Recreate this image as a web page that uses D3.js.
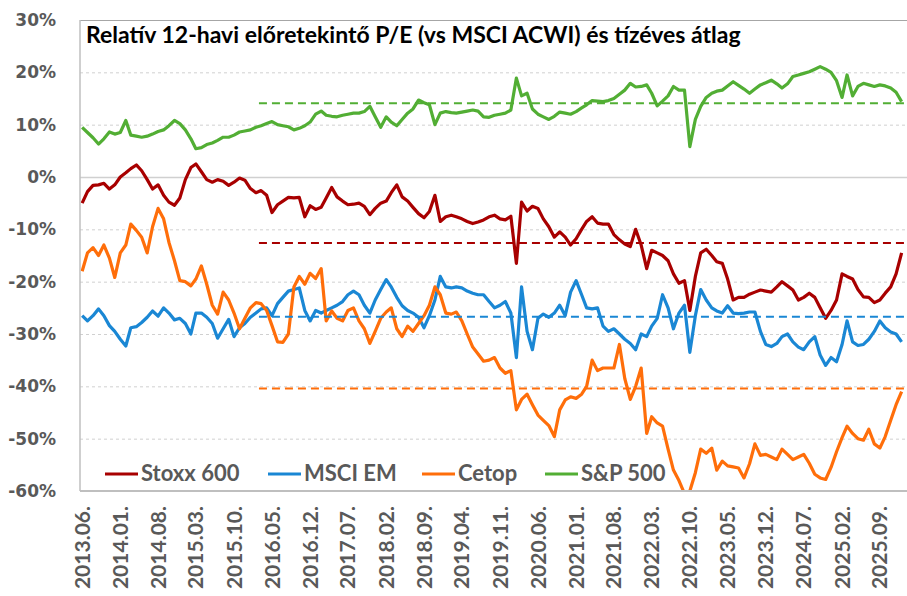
<!DOCTYPE html>
<html>
<head>
<meta charset="utf-8">
<script src="https://cdn.jsdelivr.net/npm/d3@7"></script>
<style>
  body { margin: 0; background: #fff; }
</style>
</head>
<body>
<svg id="chart" width="907" height="596"></svg>
<script>
// relative forward P/E vs MSCI ACWI, monthly readings (%), 2013.06 - 2026.01
const firstMonth = "2013.06.";
const lastMonth = "2026.01.";

const stoxx600 = [
  -5.0, -2.8, -1.6, -1.5, -1.2, -2.3, -1.5, 0, 0.8, 1.6,
  2.3, 1.2, -0.5, -2.3, -1.5, -3.5, -4.8, -5.4, -4.0, -0.5,
  1.8, 2.5, 1.0, -0.5, -1.0, -0.5, -0.8, -1.6, -1.0, -0.2,
  -0.6, -2.2, -3.0, -2.6, -3.5, -6.8, -5.3, -4.6, -3.9, -4.0,
  -3.9, -7.6, -5.5, -6.2, -5.8, -4.0, -2.0, -3.8, -4.6, -5.3,
  -5.2, -5.0, -5.6, -7.2, -6.0, -5.0, -4.6, -3.0, -1.5, -3.8,
  -4.6, -5.8, -7.0, -7.8, -6.6, -3.5, -8.5, -7.6, -7.3, -7.6,
  -8.0, -8.5, -8.9, -8.6, -8.2, -7.6, -7.3, -8.0, -8.2, -7.5,
  -16.5, -4.8, -6.5, -5.6, -6.0, -8.0, -9.5, -11.5, -10.5, -11.5,
  -13.0, -11.8, -10.0, -8.5, -7.6, -8.8, -9.0, -9.0, -11.0, -12.0,
  -12.8, -13.3, -10.0, -13.0, -17.5, -14.0, -14.5, -15.0, -16.0, -18.5,
  -20.3, -19.8, -25.5, -19.0, -14.5, -13.8, -15.0, -16.2, -16.5, -19.5,
  -23.5, -23.0, -23.0, -22.4, -22.0, -21.6, -21.8, -22.0, -21.0, -20.0,
  -20.8, -21.6, -23.5, -23.0, -22.2, -23.0, -25.0, -27.0, -25.5, -23.5,
  -18.5, -19.0, -19.5, -21.5, -22.9, -23.0, -24.0, -23.5, -22.2, -21.0, -18.5, -14.5
];

const msciEM = [
  -26.5, -27.5, -26.5, -25.2, -26.5, -28.4, -29.5, -31.0, -32.3, -28.8,
  -28.6, -27.8, -26.8, -25.6, -26.6, -25.0, -26.0, -27.3, -27.0, -28.0,
  -30.0, -26.0, -26.0, -26.8, -28.0, -30.8, -29.0, -27.2, -30.5, -28.8,
  -28.0, -26.8, -26.0, -25.2, -25.0, -26.5, -24.2, -23.0, -21.8, -21.5,
  -21.2, -25.5, -27.5, -25.5, -26.0, -25.5, -25.0, -24.5, -23.8, -22.5,
  -21.8, -22.5, -24.5, -26.0, -23.5, -21.5, -19.6, -21.0, -23.0, -24.6,
  -25.5, -26.0, -26.8, -28.8, -26.5, -23.5, -19.0, -21.0, -21.2, -21.0,
  -21.2, -21.8, -22.2, -22.5, -22.5, -23.8, -25.0, -24.5, -23.8, -26.0,
  -34.5, -21.0, -29.5, -33.0, -27.0, -26.2, -26.8, -26.0, -24.5, -26.5,
  -22.0, -19.8, -22.5, -25.0, -25.2, -25.0, -28.5, -29.5, -29.0, -30.0,
  -31.0, -31.8, -33.0, -30.0, -30.5, -28.5, -27.0, -22.5, -25.0, -29.0,
  -26.0, -24.5, -33.5, -26.5, -21.5, -23.5, -25.0, -25.6, -26.0, -24.6,
  -26.0, -26.1, -26.0, -25.8, -25.8, -29.5, -32.0, -32.4, -31.8, -30.5,
  -30.0, -31.5, -32.5, -33.0, -31.5, -30.5, -34.0, -36.0, -34.5, -35.3,
  -32.0, -27.5, -31.5, -32.2, -32.0, -31.0, -29.5, -27.5, -28.8, -29.6, -30.0, -31.5
];

const cetop = [
  -18.0, -14.5, -13.5, -15.0, -13.0, -15.5, -19.2, -14.5, -13.0, -9.0,
  -10.2, -11.5, -14.5, -9.5, -6.0, -8.0, -12.5, -16.0, -19.8, -20.0,
  -20.8, -19.5, -17.0, -20.5, -24.5, -26.2, -22.0, -23.5, -26.0, -29.0,
  -27.0, -25.0, -24.0, -24.2, -25.5, -28.4, -31.5, -31.6, -30.0, -21.0,
  -19.0, -20.5, -18.4, -19.4, -17.5, -27.5, -25.6, -27.0, -27.5, -25.5,
  -25.0, -27.5, -29.0, -31.8, -29.5, -27.0, -25.8, -25.0, -29.0, -30.5,
  -28.5, -29.5, -28.0, -26.5, -24.5, -21.0, -22.5, -26.0, -26.2, -25.8,
  -27.5, -30.0, -32.5, -33.8, -35.2, -35.0, -34.5, -36.5, -37.5, -37.0,
  -44.5, -42.5, -41.5, -43.5, -45.5, -46.5, -47.5, -49.6, -44.5, -42.6,
  -42.0, -42.3, -41.5, -40.0, -35.0, -37.0, -36.5, -36.5, -36.5, -32.0,
  -38.5, -42.5, -40.0, -36.5, -49.0, -45.8, -47.0, -47.6, -52.0, -56.0,
  -58.0, -60.5, -60.0, -56.5, -52.0, -52.8, -51.8, -56.0, -54.3, -55.2,
  -55.4, -55.6, -57.5, -54.8, -51.0, -53.2, -53.0, -53.5, -54.0, -52.0,
  -53.0, -54.0, -53.5, -53.0, -54.7, -56.8, -57.5, -57.8, -55.5, -52.5,
  -49.8, -47.6, -49.0, -50.0, -50.3, -48.2, -51.0, -51.8, -49.6, -46.5, -43.5, -41.0
];

const sp500 = [
  9.5, 8.5, 7.5, 6.3, 7.3, 8.6, 8.2, 8.5, 10.8, 8.0,
  7.8, 7.6, 7.8, 8.2, 8.7, 9.0, 9.8, 10.8, 10.2, 9.0,
  7.3, 5.4, 5.6, 6.2, 6.5, 7.0, 7.6, 7.6, 8.0, 8.6,
  8.8, 9.0, 9.5, 9.8, 10.2, 10.6, 10.0, 9.8, 9.6, 9.0,
  9.3, 9.8, 10.5, 12.0, 12.6, 11.8, 11.6, 11.5, 11.8, 12.0,
  12.2, 12.2, 12.5, 13.5, 11.5, 9.5, 11.5, 10.5, 9.8, 11.0,
  12.2, 13.0, 14.7, 14.2, 13.8, 10.0, 12.2, 12.5, 12.3, 12.2,
  12.4, 12.6, 12.8, 12.6, 11.5, 11.4, 11.8, 12.0, 12.2, 12.8,
  18.9, 15.5, 16.0, 13.0, 12.0, 11.5, 11.0, 11.6, 12.4, 12.2,
  12.0, 12.5, 13.2, 13.8, 14.6, 14.5, 14.4, 14.6, 15.0, 15.8,
  16.6, 17.9, 17.2, 17.3, 17.6, 16.0, 13.6, 14.5, 15.5, 17.3,
  16.6, 16.6, 5.8, 11.0, 13.5, 15.2, 16.0, 16.4, 16.6, 17.4,
  18.2, 17.5, 16.8, 16.0, 16.8, 17.6, 18.0, 18.5, 17.8, 17.0,
  17.8, 19.2, 19.5, 19.8, 20.1, 20.6, 21.1, 20.6, 20.0, 18.4,
  15.2, 19.5, 15.5, 17.3, 17.9, 17.6, 17.3, 17.6, 17.4, 17.0, 16.2, 14.4
];

// ten year averages (dashed lines)
const avgStart = "2016.02.";
const avgValues = [-12.6, -26.7, -40.4, 14.1];

const seriesNames = ["Stoxx 600", "MSCI EM", "Cetop", "S&P 500"];
const seriesColors = ["#A80000", "#1A87D4", "#FF6E0A", "#52AE34"];

const xTickLabels = ["2013.06.", "2014.01.", "2014.08.", "2015.03.", "2015.10.", "2016.05.",
  "2016.12.", "2017.07.", "2018.02.", "2018.09.", "2019.04.", "2019.11.", "2020.06.",
  "2021.01.", "2021.08.", "2022.03.", "2022.10.", "2023.05.", "2023.12.", "2024.07.",
  "2025.02.", "2025.09."];
const yTicks = [-60, -50, -40, -30, -20, -10, 0, 10, 20, 30];

const title = "Relatív 12-havi előretekintő P/E (vs MSCI ACWI) és tízéves átlag";

//parse the month strings
const parseMonth = d3.timeParse("%Y.%m.");
const months = d3.timeMonth.range(parseMonth(firstMonth), d3.timeMonth.offset(parseMonth(lastMonth), 1));
const allSeries = [stoxx600, msciEM, cetop, sp500];

const svg = d3.select("#chart");
const plotLeft = 80, plotRight = 905, plotTop = 20, plotBottom = 491;

// x - time scale, y - percent
const xScale = d3.scaleTime()
  .domain([new Date(2013, 4, 20), new Date(2026, 0, 20)])
  .range([plotLeft, plotRight]);
const yScale = d3.scaleLinear()
  .domain([-60, 30])
  .range([plotBottom, plotTop]);

// grid lines
svg.append("g")
  .selectAll("line")
  .data(yTicks.filter(d => d > -60))
  .enter()
  .append("line")
    .attr("x1", plotLeft)
    .attr("x2", 907)
    .attr("y1", d => yScale(d) + 0.5)
    .attr("y2", d => yScale(d) + 0.5)
    .attr("stroke", d => d === 30 ? "#A6A6A6" : "#D0D0D0")
    .attr("stroke-width", d => d === 0 ? 1.5 : 1)
    .attr("stroke-dasharray", d => (d === 0 || d === 30) ? null : "3,3");

// y axis labels
svg.append("g")
  .selectAll("text")
  .data(yTicks)
  .enter()
  .append("text")
    .attr("x", 56)
    .attr("y", d => yScale(d))
    .attr("dy", "0.36em")
    .attr("text-anchor", "end")
    .attr("font-family", "DejaVu Sans")
    .attr("font-weight", "bold")
    .attr("font-size", "17px")
    .attr("fill", "#595959")
    .text(d => d + "%");

// x axis labels - rotated
svg.append("g")
  .selectAll("text")
  .data(xTickLabels)
  .enter()
  .append("text")
    .attr("transform", d => `translate(${xScale(parseMonth(d))}, 506) rotate(-90)`)
    .attr("dy", "0.36em")
    .attr("text-anchor", "end")
    .attr("font-family", "Lato")
    .attr("font-weight", "bold")
    .attr("font-size", "21px")
    .attr("fill", "#595959")
    .text(d => d);

// clip the lines to the plot area
svg.append("clipPath")
  .attr("id", "plotClip")
  .append("rect")
    .attr("x", plotLeft)
    .attr("y", plotTop)
    .attr("width", 907 - plotLeft)
    .attr("height", plotBottom - plotTop);

const line = d3.line()
  .x((d, i) => xScale(months[i]))
  .y(d => yScale(d));

const plot = svg.append("g").attr("clip-path", "url(#plotClip)");

plot.selectAll("path.series")
  .data(allSeries)
  .enter()
  .append("path")
    .attr("class", "series")
    .attr("d", d => line(d))
    .attr("fill", "none")
    .attr("stroke", (d, i) => seriesColors[i])
    .attr("stroke-width", 3.2)
    .attr("stroke-linejoin", "round");

// dashed ten year averages
plot.selectAll("line.avg")
  .data(avgValues)
  .enter()
  .append("line")
    .attr("class", "avg")
    .attr("x1", xScale(parseMonth(avgStart)) + 3)
    .attr("x2", plotRight)
    .attr("y1", d => yScale(d))
    .attr("y2", d => yScale(d))
    .attr("stroke", (d, i) => seriesColors[i])
    .attr("stroke-width", 2)
    .attr("stroke-dasharray", "8,5");

// axis lines
svg.append("line")
  .attr("x1", plotLeft).attr("x2", plotLeft)
  .attr("y1", plotTop).attr("y2", plotBottom)
  .attr("stroke", "#BFBFBF").attr("stroke-width", 1.5);
svg.append("line")
  .attr("x1", plotLeft).attr("x2", 907)
  .attr("y1", plotBottom).attr("y2", plotBottom)
  .attr("stroke", "#BFBFBF").attr("stroke-width", 2);

// title
svg.append("text")
  .attr("x", 86)
  .attr("y", 43)
  .attr("font-family", "Lato")
  .attr("font-weight", "bold")
  .attr("font-size", "23px")
  .attr("fill", "#000")
  .text(title);

// legend
const legendX = [105, 268, 422, 545];
const legend = svg.append("g");
seriesNames.forEach((name, i) => {
  legend.append("line")
    .attr("x1", legendX[i])
    .attr("x2", legendX[i] + 33)
    .attr("y1", 474)
    .attr("y2", 474)
    .attr("stroke", seriesColors[i])
    .attr("stroke-width", 3);
  legend.append("text")
    .attr("x", legendX[i] + 36)
    .attr("y", 481)
    .attr("font-family", "Lato")
    .attr("font-weight", "bold")
    .attr("font-size", "22px")
    .attr("fill", "#595959")
    .text(name);
});
</script>
</body>
</html>
